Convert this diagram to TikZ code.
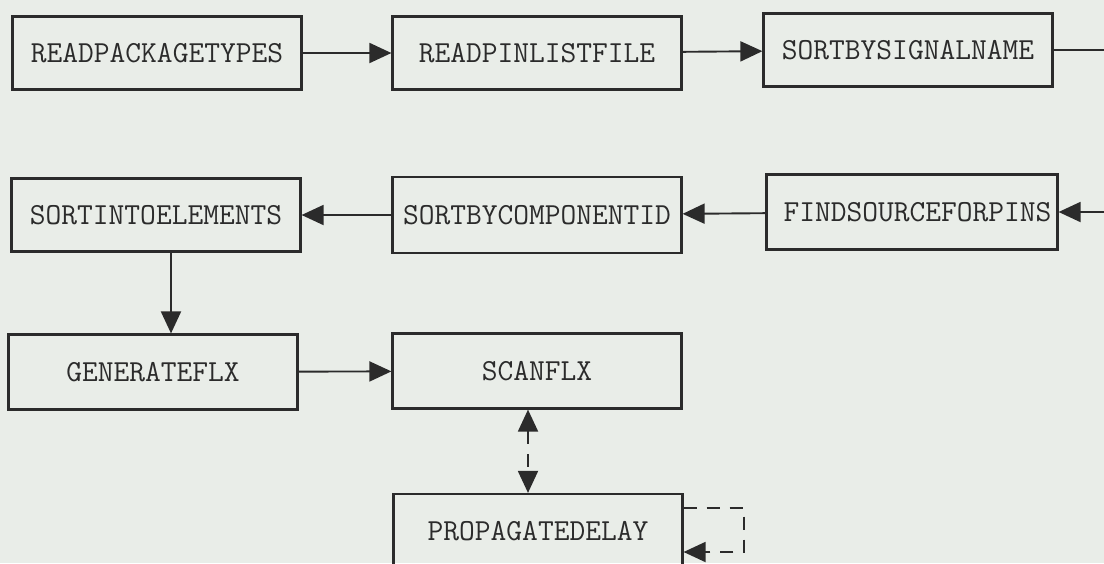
\documentclass[tikz,border=0pt]{standalone}
\usepackage{fontspec}
\usetikzlibrary{arrows.meta}
\definecolor{paper}{HTML}{E9EDE8}
\definecolor{ink}{HTML}{2B2B2B}
\begin{document}
\begin{tikzpicture}[x=1pt,y=-1pt,
  proc/.style={draw=ink,line width=2.2pt,rectangle,minimum width=289pt,
    minimum height=73pt,inner sep=0pt,text=ink,
    font=\fontsize{30.6}{30}\selectfont\ttfamily},
  tip/.tip={Triangle[length=22pt,width=20pt]},
  flow/.style={draw=ink,line width=1.9pt,-tip},
  dflow/.style={flow,dash pattern=on 13pt off 10pt}]
  \useasboundingbox[fill=paper] (0,0) rectangle (1104,563);
  \clip (0,0) rectangle (1104,563);

  % first row
  \node[proc] (rpt) at (157,53) {READPACKAGETYPES};
  \node[proc] (rpl) at (537,53) {READPINLISTFILE};
  \node[proc] (sbs) at (908,50) {SORTBYSIGNALNAME};
  % second row
  \node[proc] (sie) at (156,215) {SORTINTOELEMENTS};
  \node[proc,minimum height=76pt] (sbc) at (537,215) {SORTBYCOMPONENTID};
  \node[proc,minimum width=291pt,minimum height=75pt] (fsp) at (912,212)
    {\hspace*{11pt}FINDSOURCEFORPINS};
  % third row
  \node[proc,minimum height=75pt] (gen) at (153,372) {GENERATEFLX};
  \node[proc,minimum height=75pt] (scn) at (537,371) {SCANFLX};
  % last row
  \node[proc,minimum height=74pt] (prd) at (538,531) {PROPAGATEDELAY};

  % loose ends at the right margin
  \coordinate (out1) at (1110,50);
  \coordinate (in2)  at (1110,212);
  \coordinate (vx) at (171,0);
  \coordinate (dx) at (528,0);
  \coordinate (lp1) at (744,508);
  \coordinate (lp2) at (744,552);

  \draw[flow] (rpt) -- (rpl);
  \draw[flow] (rpl) -- (sbs);
  \draw[draw=ink,line width=1.9pt] (sbs.east) -- (out1);
  \draw[flow] (in2) -- (fsp.east);
  \draw[flow] (fsp) -- (sbc);
  \draw[flow] (sbc) -- (sie);
  \draw[flow] (sie.south -| vx) -- (gen.north -| vx);
  \draw[flow] (gen) -- (scn);
  \draw[dflow,tip-tip] (scn.south -| dx) -- (prd.north -| dx);
  \draw[dflow] (prd.east |- lp1) -- (lp1) -- (lp2) -- (prd.east |- lp2);
\end{tikzpicture}
\end{document}
